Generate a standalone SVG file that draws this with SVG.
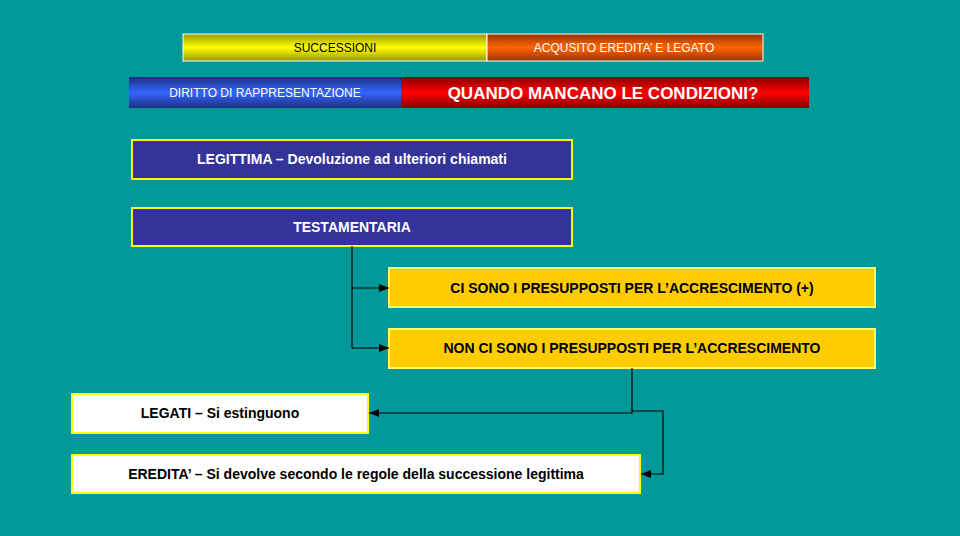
<svg xmlns="http://www.w3.org/2000/svg" width="960" height="536" viewBox="0 0 960 536">
<defs>
<linearGradient id="gy" x1="0" y1="0" x2="0" y2="1"><stop offset="0" stop-color="#999900"/><stop offset="0.5" stop-color="#ffff00"/><stop offset="1" stop-color="#999900"/></linearGradient>
<linearGradient id="go" x1="0" y1="0" x2="0" y2="1"><stop offset="0" stop-color="#993300"/><stop offset="0.5" stop-color="#ff6600"/><stop offset="1" stop-color="#993300"/></linearGradient>
<linearGradient id="gb" x1="0" y1="0" x2="0" y2="1"><stop offset="0" stop-color="#1f2f80"/><stop offset="0.5" stop-color="#3366ff"/><stop offset="1" stop-color="#1f2f80"/></linearGradient>
<linearGradient id="gr" x1="0" y1="0" x2="0" y2="1"><stop offset="0" stop-color="#880000"/><stop offset="0.5" stop-color="#ff0000"/><stop offset="1" stop-color="#880000"/></linearGradient>
<marker id="ar" markerWidth="10" markerHeight="8" refX="10" refY="4" orient="auto" markerUnits="userSpaceOnUse"><path d="M0,0 L10,4 L0,8 Z" fill="#000"/></marker>
</defs>
<style>
text{font-family:"Liberation Sans",Arial,sans-serif;font-weight:bold;text-anchor:middle;dominant-baseline:central}
.nb{fill:#333399;stroke:#ffff00;stroke-width:2}
.ny{fill:#ffcc00;stroke:#ffff66;stroke-width:2}
.nw{fill:#ffffff;stroke:#ffff00;stroke-width:2}
.c{fill:none;stroke:#000;stroke-width:1.2}
</style>
<rect width="960" height="536" fill="#009999"/>
<g id="successioni"><rect x="183" y="34" width="304" height="27" fill="url(#gy)" stroke="#fff"/><text x="335" y="48" font-size="12" fill="#000" font-weight="normal" style="font-weight:normal">SUCCESSIONI</text></g>
<g id="acquisito"><rect x="487" y="34" width="276" height="27" fill="url(#go)" stroke="#fff"/><text x="624" y="48" font-size="12" fill="#fff" style="font-weight:normal">ACQUSITO EREDITA’ E LEGATO</text></g>
<g id="diritto"><rect x="129" y="77" width="272" height="31" fill="url(#gb)"/><text x="265" y="93" font-size="12" fill="#fff" style="font-weight:normal">DIRITTO DI RAPPRESENTAZIONE</text></g>
<g id="quando"><rect x="401" y="77" width="408" height="31" fill="url(#gr)"/><text x="603" y="93" font-size="17" fill="#fff">QUANDO MANCANO LE CONDIZIONI?</text></g>
<g id="legittima"><rect class="nb" x="132" y="140" width="440" height="39"/><text x="352" y="159" font-size="14" fill="#fff">LEGITTIMA – Devoluzione ad ulteriori chiamati</text></g>
<g id="testamentaria"><rect class="nb" x="132" y="208" width="440" height="38"/><text x="352" y="227" font-size="14" fill="#fff">TESTAMENTARIA</text></g>
<g id="ci"><rect class="ny" x="389" y="268" width="486" height="39"/><text x="632" y="288" font-size="14" fill="#000">CI SONO I PRESUPPOSTI PER L’ACCRESCIMENTO (+)</text></g>
<g id="non"><rect class="ny" x="389" y="329" width="486" height="39"/><text x="632" y="348" font-size="14" fill="#000">NON CI SONO I PRESUPPOSTI PER L’ACCRESCIMENTO</text></g>
<g id="legati"><rect class="nw" x="72" y="394" width="296" height="39"/><text x="220" y="413" font-size="14" fill="#000">LEGATI – Si estinguono</text></g>
<g id="eredita"><rect class="nw" x="72" y="455" width="568" height="38"/><text x="356" y="474" font-size="14" fill="#000">EREDITA’ – Si devolve secondo le regole della successione legittima</text></g>
<g id="connectors">
<path class="c" d="M352,246 V348"/>
<path class="c" d="M352,288 H389" marker-end="url(#ar)"/>
<path class="c" d="M352,348 H389" marker-end="url(#ar)"/>
<path class="c" d="M632,368 V413 H369" marker-end="url(#ar)"/>
<path class="c" d="M632,411 H663 V474 H641" marker-end="url(#ar)"/>
</g>
</svg>
